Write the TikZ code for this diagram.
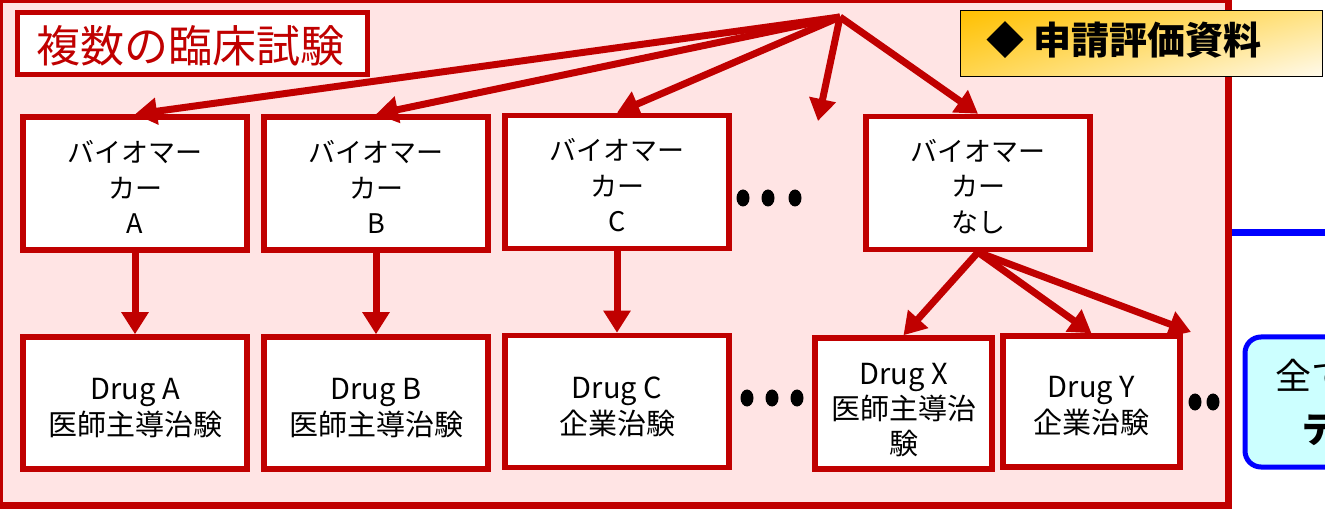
\documentclass[tikz,border=0pt]{standalone}
\usepackage{fontspec}
\setmainfont{Noto Sans CJK JP}
\usetikzlibrary{arrows.meta,calc,shadings}
\definecolor{dred}{RGB}{192,0,0}
\definecolor{pinkbg}{RGB}{255,228,228}
\definecolor{cyanbg}{RGB}{204,255,255}
\definecolor{bblue}{RGB}{0,0,255}
\definecolor{yul}{RGB}{255,192,0}
\definecolor{yur}{RGB}{255,226,130}
\definecolor{yll}{RGB}{255,214,80}
\definecolor{ylr}{RGB}{255,250,236}
\begin{document}
\begin{tikzpicture}[x=1pt,y=-1pt,
  bmbox/.style={draw=dred,line width=5.5pt,fill=white,minimum width=224pt,minimum height=133pt,inner sep=0pt},
  bmtext/.style={inner sep=0pt,align=center,font=\fontsize{27}{35.5}\selectfont},
  drtext/.style={inner sep=0pt,align=center,font=\fontsize{29}{36}\selectfont},
  arr/.style={draw=dred,line width=7pt,-{Triangle[length=22pt,width=26pt]}},
  dotmark/.style={fill=black}]
\useasboundingbox (0,0) rectangle (1325,510);
\clip (0,0) rectangle (1325,510);

% main frame
\node[draw=dred,fill=pinkbg,line width=7pt,minimum width=1229pt,minimum height=505pt,anchor=north west,inner sep=0pt,outer sep=0pt] (frame) at (-0.5,0) {};

% title
\node[draw=dred,fill=white,line width=5pt,minimum width=350pt,minimum height=62pt,inner sep=0pt] (title) at (192.5,43.5) {};
\node[inner sep=0pt,text=dred,font=\fontsize{44}{48}\selectfont] (titlet) at (190,46) {複数の臨床試験};

% blue line and box on right
\coordinate (bl) at (1232,233);
\coordinate (br) at (1330,233);
\draw[bblue,line width=7pt] (bl) -- (br);
\node[draw=bblue,fill=cyanbg,line width=5pt,rounded corners=16pt,minimum width=260pt,minimum height=130pt,
  anchor=north west,inner sep=0pt] (allbox) at (1242.5,334.5) {};
\node[anchor=west,inner sep=0pt,font=\fontsize{36}{40}\selectfont] (allt1) at (1275,376) {全ての臨床};
\node[anchor=west,inner sep=0pt,font=\bfseries\fontsize{36}{40}\selectfont] (allt2) at (1302,428) {データ};

% yellow label
\node[draw=black,line width=1.3pt,upper left=yul,upper right=yur,lower left=yll,lower right=ylr,
  minimum width=362pt,minimum height=66pt,inner sep=0pt] (ybox) at (1141.5,43.5) {};
\node[inner sep=0pt,font=\bfseries\fontsize{38}{42}\selectfont] (ytext) at (1124,40) {◆ 申請評価資料};

% biomarker boxes
\node[bmbox] (bmA) at (135,183.5) {};
\node[bmbox] (bmB) at (376,183.5) {};
\node[bmbox] (bmC) at (617,182) {};
\node[bmbox] (bmN) at (978,183) {};
\node[bmtext] (bmAt) at (135,187) {バイオマー\\カー\\A};
\node[bmtext] (bmBt) at (376,187) {バイオマー\\カー\\B};
\node[bmtext] (bmCt) at (617,185.5) {バイオマー\\カー\\C};
\node[bmtext] (bmNt) at (978,186.5) {バイオマー\\カー\\なし};

% drug boxes
\node[bmbox,minimum height=132pt] (drA) at (135,403) {};
\node[bmbox,minimum height=132pt] (drB) at (376,403) {};
\node[bmbox,minimum height=132pt] (drC) at (617,401.5) {};
\node[bmbox,minimum width=177pt,minimum height=131pt] (drX) at (903.5,403.5) {};
\node[bmbox,minimum width=177pt,minimum height=131pt] (drY) at (1091.5,401.5) {};
\node[drtext] (drAt) at (135,408) {Drug A\\医師主導治験};
\node[drtext] (drBt) at (376,408) {Drug B\\医師主導治験};
\node[drtext] (drCt) at (617,406.5) {Drug C\\企業治験};
\node[drtext,font=\fontsize{29}{35}\selectfont] (drXt) at (903.5,410) {Drug X\\医師主導治\\験};
\node[drtext] (drYt) at (1091.5,406.5) {Drug Y\\企業治験};

% arrows from hub
\coordinate (hub) at (840,17);
\coordinate (free) at (818,121);
\draw[arr] (hub) -- (bmA.north);
\draw[arr] (hub) -- (bmB.north);
\draw[arr] (hub) -- (bmC.north);
\draw[arr] (hub) -- (free);
\draw[arr] (hub) -- (bmN.north);

% vertical arrows
\draw[arr] (bmA.south) -- (drA.north);
\draw[arr] (bmB.south) -- (drB.north);
\draw[arr] (bmC.south) -- (drC.north);

% arrows from none
\coordinate (offY) at (1191,332);
\draw[arr] (bmN.south) -- (drX.north);
\draw[arr] (bmN.south) -- (drY.north);
\draw[arr] (bmN.south) -- (offY);

% dots
\foreach \x in {743,768,795} \fill[dotmark] (\x,198) ellipse [x radius=6.5, y radius=8.5];
\foreach \x in {747,772,797} \fill[dotmark] (\x,398) ellipse [x radius=6.5, y radius=8.5];
\foreach \x in {1195,1213} \fill[dotmark] (\x,402) ellipse [x radius=6.5, y radius=8.5];
\end{tikzpicture}
\end{document}
